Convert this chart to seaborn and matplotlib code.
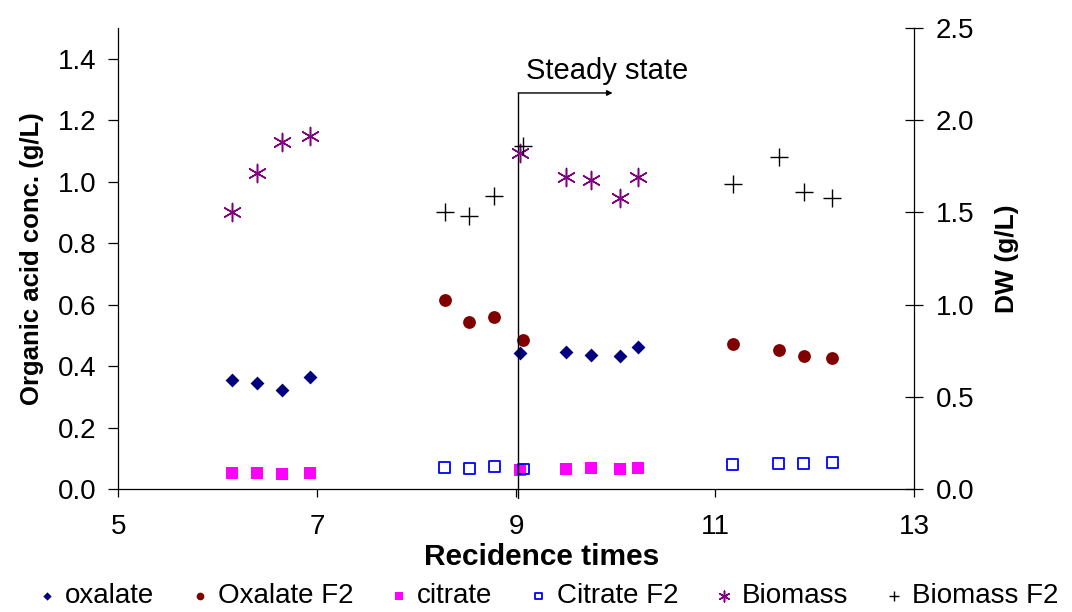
import matplotlib
matplotlib.use("Agg")
import matplotlib.pyplot as plt
import seaborn as sns
import numpy as np

# ---- data ----
x_ox = [6.14, 6.39, 6.64, 6.93, 9.04, 9.50, 9.75, 10.04, 10.23]
oxalate = [0.356, 0.346, 0.321, 0.365, 0.443, 0.445, 0.437, 0.432, 0.462]
citrate = [0.051, 0.051, 0.048, 0.052, 0.062, 0.065, 0.067, 0.065, 0.068]
biomass = [1.504, 1.712, 1.880, 1.914, 1.820, 1.694, 1.676, 1.580, 1.694]

x_f2 = [8.28, 8.53, 8.78, 9.07, 11.18, 11.64, 11.89, 12.18]
oxalate_f2 = [0.615, 0.545, 0.561, 0.486, 0.473, 0.453, 0.432, 0.426]
citrate_f2 = [0.070, 0.068, 0.072, 0.065, 0.080, 0.082, 0.084, 0.085]
biomass_f2 = [1.504, 1.482, 1.589, 1.860, 1.654, 1.799, 1.609, 1.580]

series_labels = ["oxalate", "Oxalate F2", "citrate", "Citrate F2", "Biomass", "Biomass F2"]
x_ticks = [5, 7, 9, 11, 13]
left_ticks = [0.0, 0.2, 0.4, 0.6, 0.8, 1.0, 1.2, 1.4]
right_ticks = [0.0, 0.5, 1.0, 1.5, 2.0, 2.5]
steady_x, steady_y, steady_end = 9.02, 1.289, 9.97

sns.set_theme(style="white")
plt.rcParams["font.family"] = ["Liberation Sans", "DejaVu Sans"]
plt.rcParams["text.color"] = "black"
plt.rcParams["axes.labelcolor"] = "black"
plt.rcParams["xtick.color"] = "black"
plt.rcParams["ytick.color"] = "black"

fig = plt.figure(figsize=(10.72, 6.12), dpi=100)
ax = fig.add_axes([0.1105, 0.201, 0.742, 0.753])
ax2 = ax.twinx()

navy = "#000080"
dred = "#800000"
mag = "#FF00FF"
blue = "#0000FF"
purple = "#800080"

sns.scatterplot(x=x_ox, y=oxalate, ax=ax, marker="D", s=50, color=navy,
                linewidth=0, label=series_labels[0], legend=False)
sns.scatterplot(x=x_f2, y=oxalate_f2, ax=ax, marker="o", s=85, color=dred,
                linewidth=0, label=series_labels[1], legend=False)
sns.scatterplot(x=x_ox, y=citrate, ax=ax, marker="s", s=80, color=mag,
                linewidth=0, label=series_labels[2], legend=False)
sns.scatterplot(x=x_f2, y=citrate_f2, ax=ax, marker="s", s=62,
                facecolors="none", edgecolor=blue, linewidth=1.3,
                label=series_labels[3], legend=False)
sns.scatterplot(x=x_ox, y=biomass, ax=ax2, marker=(6, 2, 0), s=170, color=purple,
                linewidth=1.1, label=series_labels[4], legend=False)
sns.scatterplot(x=x_f2, y=biomass_f2, ax=ax2, marker="+", s=160, color="black",
                linewidth=1.0, label=series_labels[5], legend=False)

ax.set_xlim(5, 13)
ax.set_ylim(0, 1.5)
ax2.set_ylim(0, 2.5)
ax.set_xticks(x_ticks)
ax.set_xticklabels([str(t) for t in x_ticks])
ax.set_yticks(left_ticks)
ax.set_yticklabels([f"{t:.1f}" for t in left_ticks])
ax2.set_yticks(right_ticks)
ax2.set_yticklabels([f"{t:.1f}" for t in right_ticks])

for a in (ax, ax2):
    a.spines["top"].set_visible(False)
    for sp in a.spines.values():
        sp.set_color("black")
        sp.set_linewidth(0.9)
    a.grid(False)
ax.spines["right"].set_visible(False)
ax2.spines["left"].set_visible(False)
ax2.spines["bottom"].set_visible(False)

ax.tick_params(axis="x", direction="out", length=6, width=0.9, color="black",
               labelsize=20, pad=12, bottom=True, labelcolor="black")
ax.tick_params(axis="y", direction="out", length=7, width=0.9, color="black",
               labelsize=20, pad=9, left=True, labelcolor="black")
ax2.tick_params(axis="y", direction="inout", length=13, width=0.9, color="black",
                labelsize=20, pad=9, right=True, labelcolor="black")

ax.set_xlabel("Recidence times", fontsize=21.5, fontweight="bold", color="black")
ax.xaxis.set_label_coords(0.532, -0.117)
ax.set_ylabel("Organic acid conc. (g/L)", fontsize=18.5, fontweight="bold",
              color="black", labelpad=10)
ax2.set_ylabel("DW (g/L)", fontsize=19, fontweight="bold", color="black", labelpad=15)

# steady state marker
ax.plot([steady_x, steady_x], [-0.03, steady_y], color="black", lw=1.0, clip_on=False)
ax.annotate("", xy=(steady_end, steady_y), xytext=(steady_x, steady_y),
            arrowprops=dict(arrowstyle="-|>", color="black", lw=1.0,
                            mutation_scale=8, shrinkA=0, shrinkB=0))
ax.text(steady_x + 0.08, 1.36, "Steady state", fontsize=21, ha="left", va="center",
        color="black")

h1, l1 = ax.get_legend_handles_labels()
h2, l2 = ax2.get_legend_handles_labels()
leg = fig.legend(h1 + h2, l1 + l2, loc="center", bbox_to_anchor=(0.511, 0.026), ncol=6,
                 frameon=False, fontsize=20, markerscale=0.6, handlelength=0.7,
                 handletextpad=0.3, columnspacing=1.3, borderaxespad=0)
for t in leg.get_texts():
    t.set_color("black")

fig.savefig("out.png", dpi=100)
